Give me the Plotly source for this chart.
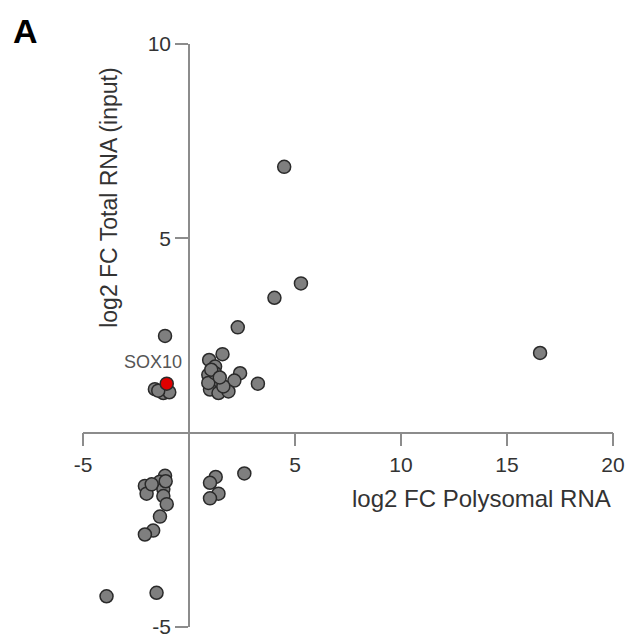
import plotly.graph_objects as go

# log2 FC Polysomal RNA (x) vs log2 FC Total RNA (input) (y)
gray_x = [4.49, 5.28, 4.03, 16.56, 2.30, -1.13,
          1.58, 0.95, 1.23, 0.91, 1.31, 2.41, 2.14, 3.25, 0.99, 1.39, 1.86, 1.62, 0.91, 1.23, 1.05, 1.45,
          -1.61, -1.21, -0.93, -1.45,
          -1.13, -1.37, -2.08, -2.00, -1.21, -1.21, -1.05, -1.37, -1.69, -2.08, -1.76, -1.10, -3.89, -1.53,
          1.26, 0.99, 1.39, 0.99, 2.61]
gray_y = [6.84, 3.84, 3.47, 2.05, 2.71, 2.49,
          2.02, 1.87, 1.70, 1.49, 1.32, 1.53, 1.34, 1.26, 1.11, 1.02, 1.06, 1.19, 1.28, 1.53, 1.62, 1.42,
          1.12, 1.02, 1.04, 1.08,
          -1.11, -1.26, -1.37, -1.57, -1.45, -1.63, -1.84, -2.16, -2.52, -2.62, -1.33, -1.25, -4.21, -4.12,
          -1.14, -1.29, -1.57, -1.69, -1.05]
sox10_x = [-1.05]
sox10_y = [1.26]
sox10_label = "SOX10"

x_ticks = [-5, 5, 10, 15, 20]
y_ticks = [-5, 5, 10]

FONT = "Arial, Liberation Sans, sans-serif"
AXIS_COLOR = "#8c8c8c"

fig = go.Figure()
fig.add_trace(go.Scatter(
    x=gray_x, y=gray_y, mode="markers",
    marker=dict(size=13, color="#7f7f7f", line=dict(color="#2a2a2a", width=1.5)),
    hoverinfo="x+y", showlegend=False))
fig.add_trace(go.Scatter(
    x=sox10_x, y=sox10_y, mode="markers",
    marker=dict(size=13, color="#e00000", line=dict(color="#2a2a2a", width=1.5)),
    hoverinfo="x+y", showlegend=False))

fig.update_layout(
    width=627, height=637,
    margin=dict(l=83, r=14, t=44, b=10),
    paper_bgcolor="white", plot_bgcolor="white",
    font=dict(family=FONT, color="#333333"),
    xaxis=dict(range=[-5, 20], anchor="free", position=1/3, side="bottom",
               showgrid=False, zeroline=False, showline=True, linecolor=AXIS_COLOR, linewidth=1.5,
               ticks="outside", ticklen=13, tickwidth=1.5, tickcolor=AXIS_COLOR,
               tickvals=x_ticks, ticktext=[str(v) for v in x_ticks], ticklabeloverflow="allow",
               tickfont=dict(size=21, color="#333333"), automargin=False, fixedrange=True),
    yaxis=dict(range=[-5, 10], anchor="free", position=0.2, side="left",
               showgrid=False, zeroline=False, showline=True, linecolor=AXIS_COLOR, linewidth=1.5,
               ticks="outside", ticklen=13, tickwidth=1.5, tickcolor=AXIS_COLOR,
               tickvals=y_ticks, ticktext=[str(v) for v in y_ticks], ticklabeloverflow="allow",
               tickfont=dict(size=21, color="#333333"), automargin=False, fixedrange=True),
    annotations=[
        dict(text="log2 FC Polysomal RNA", x=20, y=-1.7, xref="x", yref="y",
             xanchor="right", yanchor="middle", showarrow=False,
             font=dict(size=24, color="#333333", family=FONT)),
        dict(text="log2 FC Total RNA (input)", x=-3.75, y=6.03, xref="x", yref="y",
             xanchor="center", yanchor="middle", textangle=-90, showarrow=False,
             font=dict(size=23, color="#333333", family=FONT)),
        dict(text=sox10_label, x=sox10_x[0], y=sox10_y[0], xref="x", yref="y",
             xshift=-14, yshift=22, xanchor="center", yanchor="middle", showarrow=False,
             font=dict(size=18, color="#555555", family=FONT)),
        dict(text="<b>A</b>", x=-0.109, y=1.022, xref="paper", yref="paper",
             xanchor="center", yanchor="middle", showarrow=False,
             font=dict(size=34, color="#000000", family=FONT)),
    ],
)

fig.write_html("out.html",
               config={"displayModeBar": False},
               post_script="document.body.style.margin='0';document.body.style.overflow='hidden';")
